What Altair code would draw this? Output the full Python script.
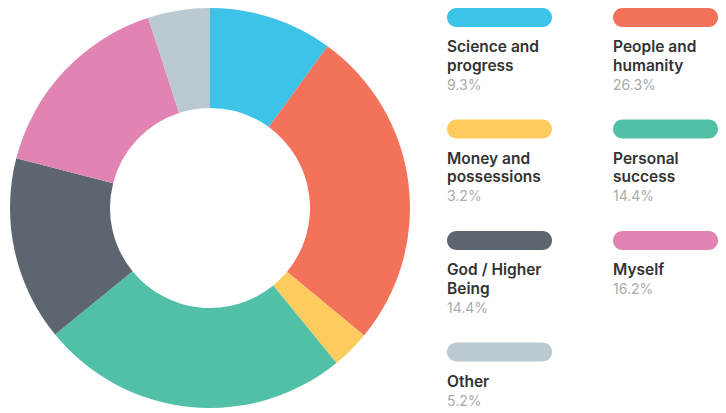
import altair as alt
import pandas as pd

categories = ["Science and progress", "People and humanity", "Money and possessions",
              "Personal success", "God / Higher Being", "Myself", "Other"]
title_lines = ["Science and\nprogress", "People and\nhumanity", "Money and\npossessions",
               "Personal\nsuccess", "God / Higher\nBeing", "Myself", "Other"]
pct_labels = ["9.3%", "26.3%", "3.2%", "14.4%", "14.4%", "16.2%", "5.2%"]
slice_values = [10.0, 26.0, 3.1, 25.0, 14.9, 16.0, 5.0]
colors = ["#3DC2E8", "#F2735A", "#FECB5F", "#52C0A7", "#5D6670", "#E184B4", "#BAC9D2"]

df = pd.DataFrame({
    "category": categories,
    "title": title_lines,
    "pct": pct_labels,
    "nlines": [t.count("\n") + 1 for t in title_lines],
    "value": slice_values,
    "order": list(range(len(categories))),
    "col": [i % 2 for i in range(len(categories))],
    "row": [i // 2 for i in range(len(categories))],
})

color = alt.Color("category:N", scale=alt.Scale(domain=categories, range=colors), legend=None)
xs = alt.Scale(domain=[0, 1], range=[439, 605], nice=False, zero=False)
ys = alt.Scale(domain=[0, 3], range=[0, 334.5], nice=False, zero=False)
X = alt.X("col:Q", scale=xs, axis=None)
Y = alt.Y("row:Q", scale=ys, axis=None)

base = alt.Chart(df)

donut = base.mark_arc(innerRadius=100, outerRadius=200).encode(
    theta=alt.Theta("value:Q", stack=True),
    order=alt.Order("order:Q", sort="ascending"),
    color=color,
    x=alt.value(202),
    y=alt.value(200),
)

bars = base.mark_rect(cornerRadius=9.5, x2Offset=105, y2Offset=19).encode(
    x=X, x2="col:Q", y=Y, y2="row:Q", color=color,
)

titles = base.mark_text(align="left", baseline="alphabetic", dy=44, lineBreak="\n",
                        lineHeight=18.5, font="Inter", fontSize=15.5, fontWeight=600,
                        color="#333333").encode(x=X, y=Y, text="title:N")

pct_style = dict(align="left", baseline="alphabetic", font="Inter", fontSize=14,
                 fontWeight=400, color="#ABABAB")
pcts2 = base.transform_filter("datum.nlines == 2").mark_text(dy=81.5, **pct_style).encode(
    x=X, y=Y, text="pct:N")
pcts1 = base.transform_filter("datum.nlines == 1").mark_text(dy=63, **pct_style).encode(
    x=X, y=Y, text="pct:N")

chart = alt.layer(donut, bars, titles, pcts2, pcts1).properties(
    width=710, height=400, padding=0, autosize="none"
).configure_view(stroke=None)

chart.save("out.html", embed_options={"renderer": "svg", "actions": False})
